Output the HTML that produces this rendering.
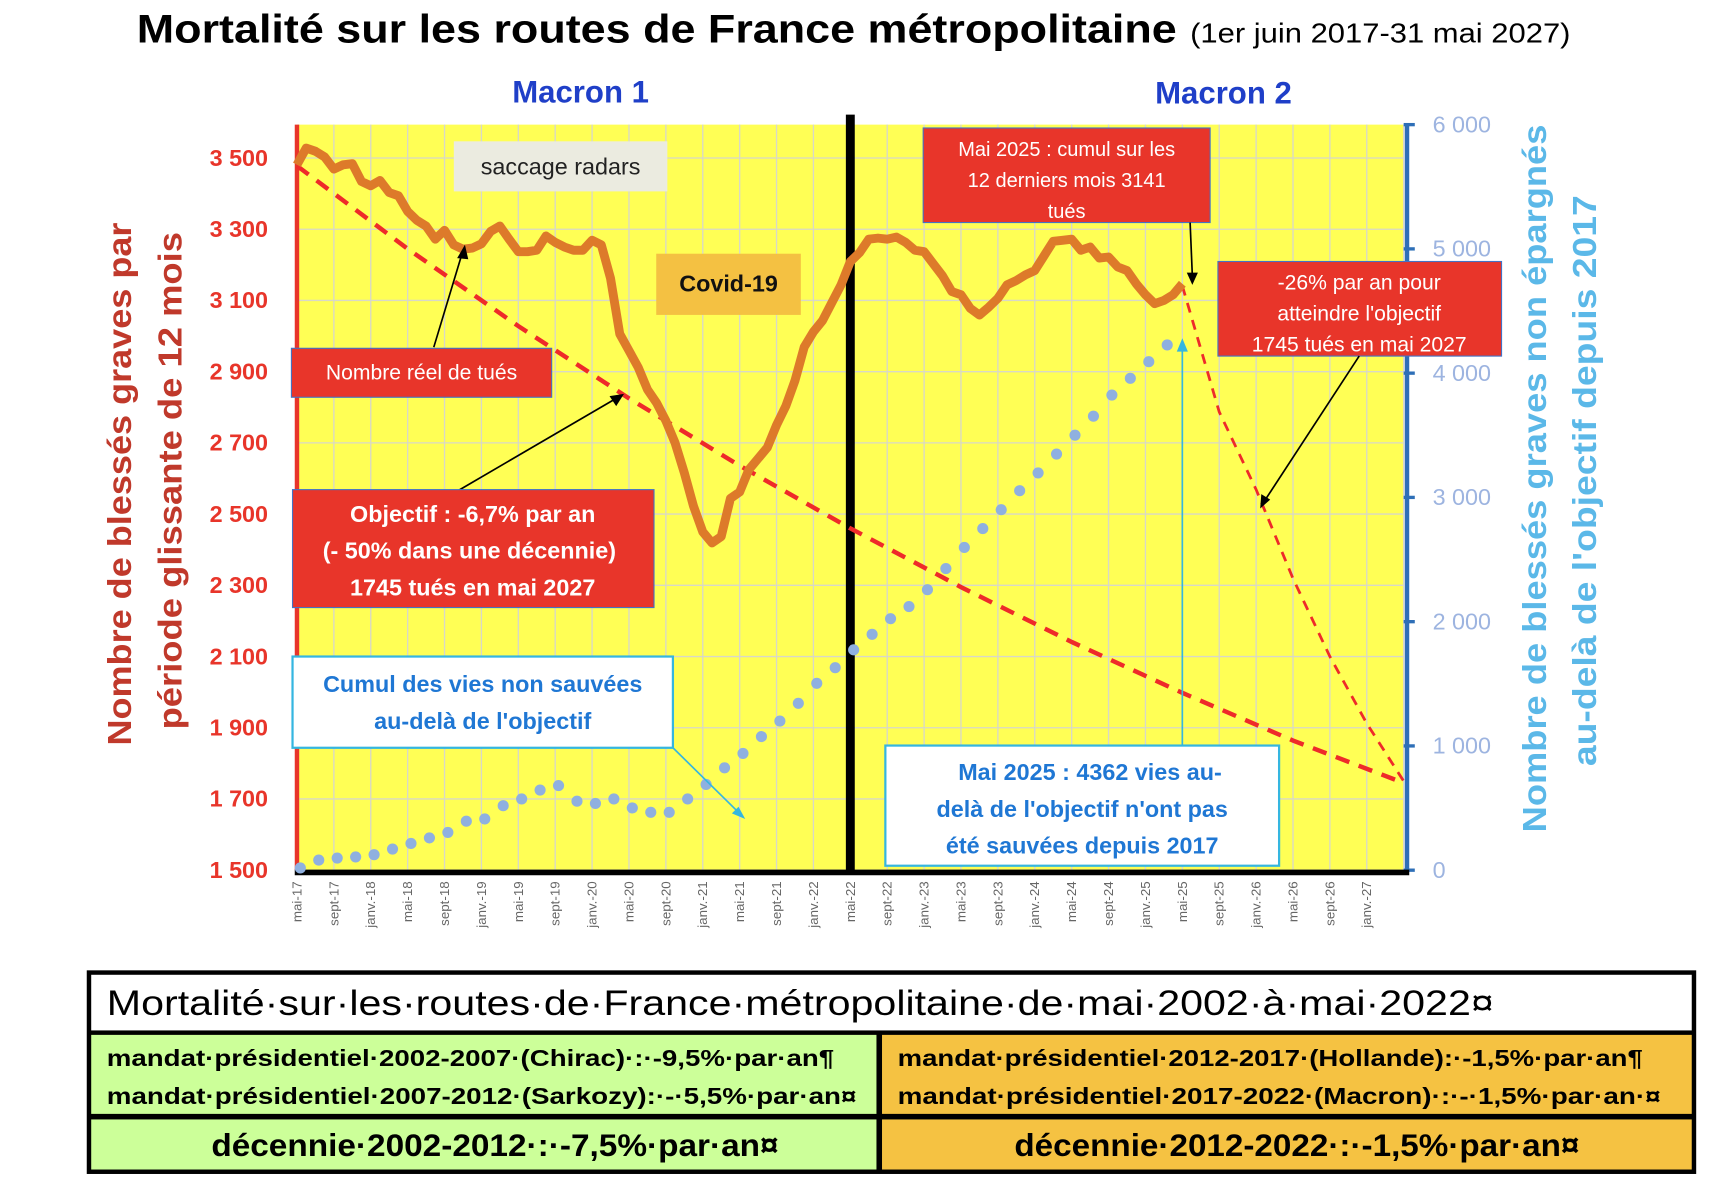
<!DOCTYPE html>
<html><head><meta charset="utf-8"><style>
html,body{margin:0;padding:0;background:#fff;}
svg{display:block;font-family:"Liberation Sans",sans-serif;}
</style></head><body>
<svg id="chart" width="1724" height="1194" viewBox="0 0 1550 1073" preserveAspectRatio="none" xmlns="http://www.w3.org/2000/svg">
<text x="123" y="38" font-size="36" font-weight="bold" fill="#000" textLength="935" lengthAdjust="spacingAndGlyphs">Mortalité sur les routes de France métropolitaine</text>
<text x="1070" y="38" font-size="25" fill="#000" textLength="342" lengthAdjust="spacingAndGlyphs">(1er juin 2017-31 mai 2027)</text>
<text x="522" y="92" font-size="28" font-weight="bold" fill="#1f3fc8" text-anchor="middle">Macron 1</text>
<text x="1100" y="93" font-size="28" font-weight="bold" fill="#1f3fc8" text-anchor="middle">Macron 2</text>
<rect x="267" y="112" width="995" height="670" fill="#ffff55"/>
<g id="grid"></g>
<g id="axes"></g>
<g id="series"></g>
<g id="annotations">
<rect x="408" y="127" width="192" height="45" fill="#ebebe0"/>
<text x="504" y="157" font-size="21" text-anchor="middle" fill="#222">saccage radars</text>
<rect x="590" y="228" width="130" height="55" fill="#f4c142"/>
<text x="655" y="262" font-size="21" font-weight="bold" text-anchor="middle" fill="#111">Covid-19</text>
<line x1="390" y1="312" x2="416" y2="226" stroke="#000" stroke-width="1.5"/>
<polygon points="418,220 411,232 421,233" fill="#000"/>
<rect x="262" y="313" width="234" height="44" fill="#e8352a" stroke="#4472c4" stroke-width="1"/>
<text x="379" y="341" font-size="19" text-anchor="middle" fill="#fff">Nombre réel de tués</text>
<line x1="410" y1="442" x2="554" y2="358" stroke="#000" stroke-width="1.5"/>
<polygon points="561,354 548,356 554,365" fill="#000"/>
<rect x="263" y="440" width="325" height="106" fill="#e8352a" stroke="#4472c4" stroke-width="1"/>
<g font-size="21" font-weight="bold" fill="#fff" text-anchor="middle">
<text x="425" y="469">Objectif : -6,7% par an</text><text x="422" y="502">(- 50% dans une décennie)</text><text x="425" y="535">1745 tués en mai 2027</text></g>
<line x1="605" y1="672" x2="666" y2="732" stroke="#35b6e0" stroke-width="1.5"/>
<polygon points="670,736 658,731 664,725" fill="#35b6e0"/>
<rect x="263" y="590" width="342" height="82" fill="#fff" stroke="#35b6e0" stroke-width="2"/>
<g font-size="21" font-weight="bold" fill="#1f77d4" text-anchor="middle">
<text x="434" y="622">Cumul des vies non sauvées</text><text x="434" y="655">au-delà de l'objectif</text></g>
<rect x="830" y="115" width="258" height="85" fill="#e8352a" stroke="#4472c4" stroke-width="1"/>
<g font-size="18" fill="#fff" text-anchor="middle">
<text x="959" y="140">Mai 2025 : cumul sur les</text><text x="959" y="168">12 derniers mois 3141</text><text x="959" y="196">tués</text></g>
<line x1="1070" y1="200" x2="1072" y2="248" stroke="#000" stroke-width="1.5"/>
<polygon points="1072,256 1067,245 1077,245" fill="#000"/>
<rect x="1095" y="235" width="255" height="85" fill="#e8352a" stroke="#4472c4" stroke-width="1"/>
<g font-size="19" fill="#fff" text-anchor="middle">
<text x="1222" y="260">-26% par an pour</text><text x="1222" y="288">atteindre l'objectif</text><text x="1222" y="316">1745 tués en mai 2027</text></g>
<line x1="1222" y1="320" x2="1137" y2="450" stroke="#000" stroke-width="1.5"/>
<polygon points="1133,457 1134,444 1142,449" fill="#000"/>
<line x1="1063" y1="670" x2="1063" y2="312" stroke="#35b6e0" stroke-width="1.5"/>
<polygon points="1063,304 1058,316 1068,316" fill="#35b6e0"/>
<rect x="796" y="670" width="354" height="108" fill="#fff" stroke="#35b6e0" stroke-width="2"/>
<g font-size="21" font-weight="bold" fill="#1f77d4" text-anchor="middle">
<text x="980" y="701">Mai 2025 : 4362 vies au-</text><text x="973" y="734">delà de l'objectif n'ont pas</text><text x="973" y="767">été sauvées depuis 2017</text></g>
</g>
<text transform="translate(118,435) rotate(-90)" font-size="30" font-weight="bold" fill="#c0392b" text-anchor="middle" textLength="470" lengthAdjust="spacingAndGlyphs">Nombre de blessés graves par</text>
<text transform="translate(163,432) rotate(-90)" font-size="30" font-weight="bold" fill="#c0392b" text-anchor="middle" textLength="447" lengthAdjust="spacingAndGlyphs">période glissante de 12 mois</text>
<text transform="translate(1390,430) rotate(-90)" font-size="30" font-weight="bold" fill="#5bb8e8" text-anchor="middle" textLength="636" lengthAdjust="spacingAndGlyphs">Nombre de blessés graves non épargnés</text>
<text transform="translate(1435,432) rotate(-90)" font-size="30" font-weight="bold" fill="#5bb8e8" text-anchor="middle" textLength="513" lengthAdjust="spacingAndGlyphs">au-delà de l'objectif depuis 2017</text>
<g>
<rect x="78" y="872" width="1447" height="183" fill="#000"/>
<rect x="82" y="876" width="1439" height="50" fill="#fff"/>
<rect x="82" y="930" width="706" height="71" fill="#ccff99"/>
<rect x="793" y="930" width="728" height="71" fill="#f5c242"/>
<rect x="82" y="1006" width="706" height="45" fill="#ccff99"/>
<rect x="793" y="1006" width="728" height="45" fill="#f5c242"/>
<text x="96" y="912" font-size="32" fill="#000" textLength="1247" lengthAdjust="spacingAndGlyphs">Mortalité·sur·les·routes·de·France·métropolitaine·de·mai·2002·à·mai·2022¤</text>
<g font-size="21" font-weight="bold" fill="#000">
<text x="96" y="958" textLength="654" lengthAdjust="spacingAndGlyphs">mandat·présidentiel·2002-2007·(Chirac)·:·-9,5%·par·an¶</text>
<text x="96" y="992" textLength="674" lengthAdjust="spacingAndGlyphs">mandat·présidentiel·2007-2012·(Sarkozy):·-·5,5%·par·an¤</text>
<text x="807" y="958" textLength="670" lengthAdjust="spacingAndGlyphs">mandat·présidentiel·2012-2017·(Hollande):·-1,5%·par·an¶</text>
<text x="807" y="992" textLength="686" lengthAdjust="spacingAndGlyphs">mandat·présidentiel·2017-2022·(Macron)·:·-·1,5%·par·an·¤</text>
</g>
<g font-size="28" font-weight="bold" fill="#000">
<text x="190" y="1039" textLength="510" lengthAdjust="spacingAndGlyphs">décennie·2002-2012·:·-7,5%·par·an¤</text>
<text x="912" y="1039" textLength="508" lengthAdjust="spacingAndGlyphs">décennie·2012-2022·:·-1,5%·par·an¤</text>
</g>
</g>
</svg>
<script>
const leftTicks=[1500,1700,1900,2100,2300,2500,2700,2900,3100,3300,3500];
const rightTicks=[0,1000,2000,3000,4000,5000,6000];
const xLabels=["mai-17","sept-17","janv.-18","mai-18","sept-18","janv.-19","mai-19","sept-19","janv.-20","mai-20","sept-20","janv.-21","mai-21","sept-21","janv.-22","mai-22","sept-22","janv.-23","mai-23","sept-23","janv.-24","mai-24","sept-24","janv.-25","mai-25","sept-25","janv.-26","mai-26","sept-26","janv.-27"];
const actualDeaths=[3481,3528,3519,3503,3469,3481,3484,3434,3422,3437,3403,3394,3350,3325,3309,3272,3297,3256,3244,3247,3259,3294,3309,3272,3237,3237,3241,3281,3263,3250,3241,3241,3269,3256,3162,3006,2959,2912,2850,2812,2762,2700,2616,2522,2450,2419,2437,2544,2562,2625,2656,2687,2750,2803,2875,2969,3012,3044,3094,3144,3209,3234,3272,3275,3272,3278,3263,3241,3237,3203,3169,3125,3116,3078,3059,3081,3106,3144,3156,3172,3184,3225,3266,3269,3272,3241,3250,3219,3222,3194,3184,3147,3116,3091,3100,3116,3147];
const objectiveMonths=[0,12,24,36,48,60,72,84,96,108,120];
const objectiveValues=[3478,3245,3028,2825,2636,2460,2295,2141,1998,1864,1745];
const catchupMonths=[96,100,104,108,112,116,120];
const catchupValues=[3141,2787,2569,2319,2100,1912,1750];
const cumulMonths=[0,2,4,6,8,10,12,14,16,18,20,22,24,26,28,30,32,34,36,38,40,42,44,46,48,50,52,54,56,58,60,62,64,66,68,70,72,74,76,78,80,82,84,86,88,90,92,94];
const cumulValues=[18,81,98,107,125,170,215,260,304,394,412,519,573,645,681,555,537,573,501,466,466,573,690,824,940,1075,1200,1343,1504,1630,1773,1898,2024,2122,2257,2427,2597,2749,2901,3054,3197,3349,3501,3654,3824,3958,4092,4227];

const NS="http://www.w3.org/2000/svg";
const X0=267,X1=1262,Y0=782,Y1=112;
const xS=m=>X0+m*(X1-X0)/120;
const yL=v=>Y0-(v-1500)*0.32;
const yR=v=>Y0-v*(Y0-Y1)/6000;
function mk(tag,attrs,parent){const e=document.createElementNS(NS,tag);for(const k in attrs)e.setAttribute(k,attrs[k]);parent.appendChild(e);return e;}
const grid=document.getElementById('grid'),axes=document.getElementById('axes'),series=document.getElementById('series');
for(let i=1;i<=30;i++){const l=mk('line',{x1:xS(i*4),x2:xS(i*4),y1:Y1,y2:Y0,stroke:'#d8d8c8','stroke-width':1.2},grid);

}
leftTicks.forEach(v=>{const l=mk('line',{x1:X0,x2:X1,y1:yL(v),y2:yL(v),stroke:'#d8d8c8','stroke-width':1.2},grid);


const t=mk('text',{x:241,y:yL(v)+7,'font-size':21,'font-weight':'bold',fill:'#e8352a','text-anchor':'end'},axes);
t.textContent=Math.floor(v/1000)+' '+String(v%1000).padStart(3,'0');

});
rightTicks.forEach(v=>{const t=mk('text',{x:1288,y:yR(v)+7,'font-size':21,fill:'#9db4e0'},axes);
t.textContent=v===0?'0':(Math.floor(v/1000)+' 000');


const k=mk('line',{x1:1262,x2:1272,y1:yR(v),y2:yR(v),stroke:'#2e6fb7','stroke-width':3},axes);

});
xLabels.forEach((s,i)=>{const x=xS(i*4);const t=mk('text',{transform:`translate(${x+4},792) rotate(-90)`,'font-size':12,fill:'#666','text-anchor':'end'},axes);
t.textContent=s;

});
let a=mk('line',{x1:X0,x2:X0,y1:Y1,y2:Y0,stroke:'#e8352a','stroke-width':4},axes);


a=mk('line',{x1:1265,x2:1265,y1:Y1,y2:Y0+2,stroke:'#2e6fb7','stroke-width':4},axes);


a=mk('line',{x1:X0-2,x2:1267,y1:Y0+2,y2:Y0+2,stroke:'#000','stroke-width':5},axes);


a=mk('line',{x1:xS(60),x2:xS(60),y1:103,y2:Y0+2,stroke:'#000','stroke-width':8},axes);


let p=mk('polyline',{points:objectiveMonths.map((m,i)=>xS(m)+','+yL(objectiveValues[i])).join(' '),fill:'none',stroke:'#ee2a2a','stroke-width':4,'stroke-dasharray':'13 9'},series);


p=mk('polyline',{points:catchupMonths.map((m,i)=>xS(m)+','+yL(catchupValues[i])).join(' '),fill:'none',stroke:'#ee2a2a','stroke-width':2.5,'stroke-dasharray':'9 7'},series);


p=mk('polyline',{points:actualDeaths.map((v,i)=>xS(i)+','+yL(v)).join(' '),fill:'none',stroke:'#dd7a2a','stroke-width':8,'stroke-linejoin':'round'},series);


cumulMonths.forEach((m,i)=>{const c=mk('circle',{cx:xS(m)+3,cy:yR(cumulValues[i]),r:5,fill:'#8fb0e0'},series);

});
</script>
</body></html>
